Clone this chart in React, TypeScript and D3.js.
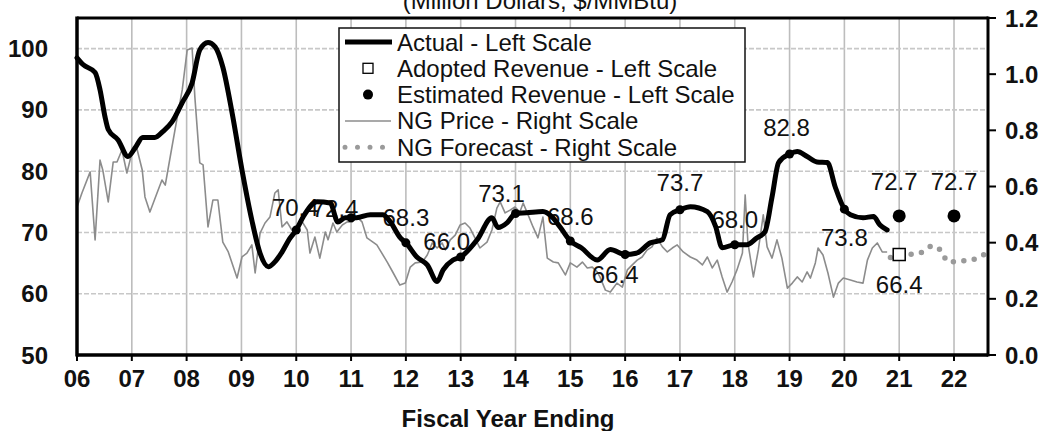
import React from "react";
import * as d3 from "d3";

// ---- Data ----
const actual: [number, number][] = [
  [6.0, 98.5], [6.11, 97.4], [6.33, 96.1], [6.42, 93.3], [6.51, 88.9], [6.57, 86.8],
  [6.75, 85.1], [6.93, 82.4], [7.06, 83.8], [7.2, 85.5], [7.42, 85.5], [7.57, 86.5],
  [7.73, 88.0], [7.92, 91.2], [8.1, 94.4], [8.24, 99.8], [8.39, 101.0], [8.52, 100.3],
  [8.66, 97.0], [8.83, 89.5], [9.01, 80.2], [9.19, 72.0], [9.34, 66.6], [9.49, 64.4],
  [9.61, 65.2], [9.74, 66.8], [9.88, 69.0], [10.0, 70.4], [10.13, 72.6], [10.38, 75.0],
  [10.62, 74.8], [10.76, 71.7], [10.89, 72.4], [11.0, 72.4], [11.1, 72.4], [11.35, 72.9],
  [11.58, 72.9], [11.71, 71.8], [11.9, 69.1], [12.0, 68.3], [12.2, 66.0], [12.39, 64.7],
  [12.57, 62.0], [12.68, 63.9], [12.86, 65.5], [13.0, 66.0], [13.3, 68.8], [13.57, 72.4],
  [13.68, 70.8], [13.85, 71.6], [14.0, 73.1], [14.2, 73.2], [14.5, 73.4], [14.67, 72.5],
  [14.82, 70.8], [15.0, 68.6], [15.2, 67.5], [15.49, 65.5], [15.73, 67.2], [16.0, 66.4],
  [16.2, 66.6], [16.46, 68.3], [16.68, 68.8], [16.82, 72.9], [17.0, 73.7], [17.19, 74.2],
  [17.5, 73.4], [17.65, 71.0], [17.77, 67.5], [18.0, 68.0], [18.22, 68.0], [18.4, 69.1],
  [18.55, 70.1], [18.68, 75.8], [18.8, 81.4], [19.0, 82.8], [19.14, 83.2], [19.32, 82.4],
  [19.5, 81.5], [19.69, 81.4], [19.83, 77.5], [20.0, 73.8], [20.11, 72.9], [20.34, 72.4],
  [20.53, 72.6], [20.65, 71.2], [20.78, 70.4],
];

const ngPrice: [number, number][] = [
  [6.0, 0.527], [6.09, 0.577], [6.24, 0.652], [6.33, 0.41], [6.42, 0.694], [6.47, 0.659],
  [6.57, 0.545], [6.66, 0.687], [6.73, 0.687], [6.82, 0.73], [6.91, 0.648], [7.0, 0.719],
  [7.09, 0.737], [7.19, 0.659], [7.24, 0.563], [7.33, 0.509], [7.46, 0.577], [7.55, 0.623],
  [7.61, 0.605], [7.7, 0.705], [7.82, 0.837], [7.92, 0.944], [8.01, 1.086], [8.1, 1.093],
  [8.15, 0.919], [8.24, 0.684], [8.3, 0.677], [8.39, 0.456], [8.48, 0.552], [8.57, 0.552],
  [8.66, 0.402], [8.76, 0.367], [8.92, 0.274], [9.01, 0.349], [9.1, 0.363], [9.19, 0.392],
  [9.25, 0.292], [9.34, 0.434], [9.43, 0.47], [9.52, 0.491], [9.61, 0.577], [9.67, 0.588],
  [9.74, 0.456], [9.83, 0.474], [9.92, 0.445], [10.01, 0.456], [10.11, 0.474], [10.2, 0.445],
  [10.25, 0.363], [10.34, 0.42], [10.43, 0.345], [10.53, 0.438], [10.58, 0.41], [10.67, 0.47],
  [10.74, 0.438], [10.84, 0.463], [10.93, 0.474], [11.02, 0.474], [11.11, 0.491], [11.2, 0.474],
  [11.29, 0.417], [11.47, 0.392], [11.66, 0.331], [11.77, 0.292], [11.89, 0.249], [11.99, 0.256],
  [12.08, 0.313], [12.17, 0.328], [12.3, 0.331], [12.39, 0.356], [12.48, 0.399], [12.57, 0.381],
  [12.66, 0.399], [12.72, 0.374], [12.81, 0.41], [12.9, 0.427], [12.99, 0.463], [13.08, 0.47],
  [13.17, 0.452], [13.26, 0.417], [13.35, 0.381], [13.48, 0.402], [13.57, 0.445], [13.66, 0.523],
  [13.72, 0.545], [13.81, 0.506], [13.9, 0.516], [13.99, 0.527], [14.08, 0.509], [14.14, 0.541],
  [14.23, 0.499], [14.32, 0.456], [14.41, 0.417], [14.5, 0.491], [14.58, 0.345], [14.69, 0.331],
  [14.78, 0.328], [14.91, 0.285], [15.0, 0.328], [15.12, 0.313], [15.22, 0.331], [15.31, 0.31],
  [15.4, 0.313], [15.49, 0.296], [15.54, 0.278], [15.64, 0.231], [15.73, 0.224], [15.85, 0.256],
  [15.95, 0.242], [16.04, 0.303], [16.13, 0.321], [16.22, 0.338], [16.31, 0.349], [16.4, 0.374],
  [16.49, 0.385], [16.58, 0.417], [16.68, 0.385], [16.77, 0.367], [16.86, 0.381], [16.95, 0.392],
  [17.06, 0.367], [17.19, 0.349], [17.31, 0.338], [17.41, 0.321], [17.5, 0.349], [17.59, 0.31],
  [17.68, 0.338], [17.77, 0.278], [17.86, 0.224], [17.95, 0.26], [18.04, 0.303], [18.14, 0.363],
  [18.19, 0.57], [18.24, 0.399], [18.34, 0.278], [18.43, 0.374], [18.52, 0.499], [18.59, 0.385],
  [18.68, 0.345], [18.77, 0.41], [18.86, 0.345], [18.96, 0.238], [19.05, 0.256], [19.14, 0.278],
  [19.23, 0.26], [19.32, 0.296], [19.38, 0.274], [19.47, 0.328], [19.52, 0.381], [19.61, 0.356],
  [19.7, 0.292], [19.8, 0.206], [19.89, 0.256], [19.98, 0.274], [20.11, 0.267], [20.23, 0.26],
  [20.34, 0.256], [20.42, 0.338], [20.51, 0.381], [20.6, 0.399], [20.69, 0.367], [20.78, 0.367],
];

const ngForecast: [number, number][] = [
  [20.84, 0.347], [21.06, 0.356], [21.24, 0.359], [21.44, 0.368], [21.61, 0.389], [21.79, 0.364],
  [21.88, 0.332], [22.02, 0.332], [22.2, 0.336], [22.42, 0.344], [22.62, 0.368],
];

const estimated: [number, number][] = [[21, 72.7], [22, 72.7]];
const adopted: [number, number][] = [[21, 66.4]];

// labelled fiscal-year points of the actual series
const fyYears = [10, 11, 12, 13, 14, 15, 16, 17, 18, 19, 20];
const fyValues = [70.4, 72.4, 68.3, 66.0, 73.1, 68.6, 66.4, 73.7, 68.0, 82.8, 73.8];
// label offsets (px) from the point to the text centre
const fyLabelOffsets: [number, number][] = [
  [-1, -23], [-16, -9], [0, -25], [-14, -15], [-14, -20], [0, -25],
  [-10, 20], [0, -27], [0, -25], [-3, -27], [0, 28],
];

const xTickYears = d3.range(6, 23);
const leftTicks = [50, 60, 70, 80, 90, 100];
const rightTicks = [0, 0.2, 0.4, 0.6, 0.8, 1.0, 1.2];

const legendLabels = [
  "Actual - Left Scale",
  "Adopted Revenue - Left Scale",
  "Estimated Revenue - Left Scale",
  "NG Price - Right Scale",
  "NG Forecast - Right Scale",
];

const title = "(Million Dollars, $/MMBtu)";
const xTitle = "Fiscal Year Ending";

// ---- Layout ----
const W = 1047;
const H = 431;
const L = 77, R = 988, T = 18, B = 355;
const FONT = "'Liberation Sans', Arial, Helvetica, sans-serif";

export default function App() {
  const x = d3.scaleLinear().domain([6, 22.62]).range([L, R]);
  const yL = d3.scaleLinear().domain([50, 105]).range([B, T]);
  const yR = d3.scaleLinear().domain([0, 1.2]).range([B, T]);

  const actualLine = d3.line<[number, number]>().x(d => x(d[0])).y(d => yL(d[1])).curve(d3.curveMonotoneX);
  const priceLine = d3.line<[number, number]>().x(d => x(d[0])).y(d => yR(d[1]));
  const fcLine = d3.line<[number, number]>().x(d => x(d[0])).y(d => yR(d[1])).curve(d3.curveMonotoneX);

  const fs = 24;
  const lgX = 339, lgY = 28, lgW = 406, lgH = 134, lgRow = 26.3;

  return (
    <div>
      <style>{"body{margin:0}"}</style>
      <svg width={W} height={H} style={{ display: "block", fontFamily: FONT }}>
        <rect x={0} y={0} width={W} height={H} fill="#fff" />
        {/* title, cut at the top */}
        <text x={540} y={9} textAnchor="middle" fontSize={fs} fill="#111">{title}</text>

        {/* grid */}
        {xTickYears.filter(v => v > 6).map(v => (
          <line key={"vg" + v} x1={x(v)} x2={x(v)} y1={T} y2={B} stroke="#bdbdbd" strokeWidth={1.6} />
        ))}
        {leftTicks.filter(v => v > 50).map(v => (
          <line key={"hg" + v} x1={L} x2={R} y1={yL(v)} y2={yL(v)} stroke="#c8c8c8" strokeWidth={1.6} strokeDasharray="5 2" />
        ))}

        {/* NG price & forecast */}
        <path d={priceLine(ngPrice) || ""} fill="none" stroke="#8c8c8c" strokeWidth={1.6} strokeLinejoin="round" />
        <path d={fcLine(ngForecast) || ""} fill="none" stroke="#9a9a9a" strokeWidth={5.5} strokeLinecap="round" strokeDasharray="0 10.5" />

        {/* labels */}
        {fyYears.map((yr, i) => (
          <text key={"lb" + yr} x={x(yr) + fyLabelOffsets[i][0]} y={yL(fyValues[i]) + fyLabelOffsets[i][1]}
            textAnchor="middle" dominantBaseline="central" fontSize={fs} fill="#111">{fyValues[i].toFixed(1)}</text>
        ))}
        {estimated.map((d, i) => (
          <text key={"el" + i} x={x(d[0]) + (i === 0 ? -5 : 0)} y={yL(d[1]) - 34} textAnchor="middle" dominantBaseline="central" fontSize={fs} fill="#111">{d[1].toFixed(1)}</text>
        ))}
        {adopted.map((d, i) => (
          <text key={"al" + i} x={x(d[0])} y={yL(d[1]) + 30} textAnchor="middle" dominantBaseline="central" fontSize={fs} fill="#111">{d[1].toFixed(1)}</text>
        ))}

        {/* actual */}
        <path d={actualLine(actual) || ""} fill="none" stroke="#000" strokeWidth={5} strokeLinejoin="round" strokeLinecap="round" />
        {fyYears.map((yr, i) => (
          <circle key={"m" + yr} cx={x(yr)} cy={yL(fyValues[i])} r={4.5} fill="#000" />
        ))}
        {estimated.map((d, i) => (
          <circle key={"e" + i} cx={x(d[0])} cy={yL(d[1])} r={6.5} fill="#000" />
        ))}
        {adopted.map((d, i) => (
          <rect key={"a" + i} x={x(d[0]) - 6} y={yL(d[1]) - 6} width={12} height={12} fill="#fff" stroke="#000" strokeWidth={1.5} />
        ))}

        {/* frame & axes */}
        <line x1={L} x2={R} y1={T} y2={T} stroke="#000" strokeWidth={3} />
        <line x1={L} x2={L} y1={T - 1.5} y2={B + 1.5} stroke="#000" strokeWidth={3.5} />
        <line x1={R} x2={R} y1={T - 1.5} y2={B + 1.5} stroke="#000" strokeWidth={3} />
        <line x1={L} x2={R} y1={B} y2={B} stroke="#000" strokeWidth={3.5} />
        {xTickYears.map(v => (
          <g key={"xt" + v}>
            <line x1={x(v)} x2={x(v)} y1={B} y2={B + 6} stroke="#000" strokeWidth={2} />
            <text x={x(v)} y={387} textAnchor="middle" fontSize={fs} fontWeight="bold" fill="#111">{String(v).padStart(2, "0")}</text>
          </g>
        ))}
        {leftTicks.map(v => (
          <text key={"lt" + v} x={48} y={yL(v)} textAnchor="end" dominantBaseline="central" fontSize={fs} fontWeight="bold" fill="#111">{v}</text>
        ))}
        {rightTicks.map(v => (
          <g key={"rt" + v}>
            <line x1={R} x2={R + 8} y1={yR(v)} y2={yR(v)} stroke="#000" strokeWidth={2} />
            <text x={1005} y={yR(v)} dominantBaseline="central" fontSize={fs} fontWeight="bold" fill="#111">{v.toFixed(1)}</text>
          </g>
        ))}
        <text x={508} y={427} textAnchor="middle" fontSize={fs} fontWeight="bold" fill="#111">{xTitle}</text>

        {/* legend */}
        <rect x={lgX} y={lgY} width={lgW} height={lgH} fill="#fff" stroke="#111" strokeWidth={1.5} />
        {legendLabels.map((lab, i) => {
          const cy = lgY + 14 + i * lgRow;
          return (
            <g key={"lg" + i}>
              {i === 0 && <line x1={345} x2={392} y1={cy} y2={cy} stroke="#000" strokeWidth={5} />}
              {i === 1 && <rect x={363} y={cy - 5} width={10} height={10} fill="#fff" stroke="#000" strokeWidth={1.3} />}
              {i === 2 && <circle cx={368} cy={cy} r={5} fill="#000" />}
              {i === 3 && <line x1={345} x2={391} y1={cy} y2={cy} stroke="#8c8c8c" strokeWidth={1.5} />}
              {i === 4 && <line x1={345} x2={385} y1={cy} y2={cy} stroke="#9a9a9a" strokeWidth={5} strokeLinecap="round" strokeDasharray="0 12.5" />}
              <text x={397} y={cy} dominantBaseline="central" fontSize={fs} fill="#111">{lab}</text>
            </g>
          );
        })}
      </svg>
    </div>
  );
}
